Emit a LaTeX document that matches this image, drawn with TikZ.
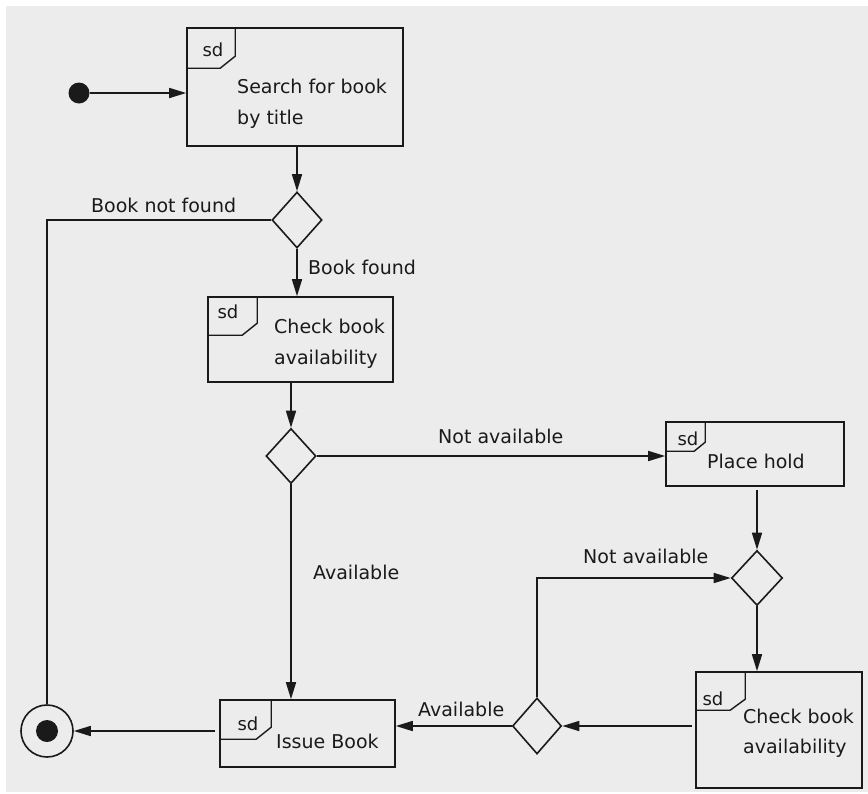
\documentclass[tikz,border=0pt]{standalone}
\usepackage{fontspec}
\setmainfont{DejaVu Sans}
\usetikzlibrary{arrows.meta,shapes.geometric,calc}
\definecolor{bgray}{HTML}{ECECEC}
\definecolor{ink}{HTML}{1A1A1A}
\begin{document}
\begin{tikzpicture}[x=1pt,y=-1pt,
  every node/.style={text=ink},
  actbox/.style={draw=ink,line width=1.6pt,rectangle,inner sep=0pt},
  dec/.style={draw=ink,line width=1.6pt,shape=diamond,inner sep=0pt},
  conn/.style={draw=ink,line width=1.6pt},
  arr/.style={conn,-{Triangle[length=17pt,width=10pt]}},
  tab/.style={draw=ink,line width=1.4pt},
  txt/.style={anchor=base west,inner sep=0pt,font=\fontsize{19}{31}\selectfont},
  sdtxt/.style={anchor=base,inner sep=0pt,font=\fontsize{18}{22}\selectfont}]
% background
\fill[white] (0,0) rectangle (868,793);
\fill[bgray] (6,6) rectangle (868,792);
\useasboundingbox (0,0) rectangle (868,793);

% initial / final
\node[circle,fill=ink,minimum size=21pt,inner sep=0pt] (init) at (79,93) {};
\node[circle,draw=ink,line width=1.6pt,minimum size=52pt,inner sep=0pt] (fin) at (47,731) {};
\node[circle,fill=ink,minimum size=22pt,inner sep=0pt] (findot) at (47,731) {};

% activity boxes
\node[actbox,minimum width=216pt,minimum height=118pt] (search) at (295,87) {};
\node[actbox,minimum width=185pt,minimum height=85pt] (check1) at (300.5,339.5) {};
\node[actbox,minimum width=178pt,minimum height=64pt] (hold) at (755,454) {};
\node[actbox,minimum width=166pt,minimum height=116pt] (check2) at (779,730) {};
\node[actbox,minimum width=175pt,minimum height=67pt] (issue) at (307.5,733.5) {};

% sd tabs
\draw[tab] (search.north west) ++(49,0) -- ++(0,29) -- ++(-15,12) -- ++(-34,0);
\draw[tab] (check1.north west) ++(50,0) -- ++(0,27) -- ++(-15,12) -- ++(-35,0);
\draw[tab] (hold.north west) ++(40,0) -- ++(0,21) -- ++(-11,9) -- ++(-29,0);
\draw[tab] (check2.north west) ++(50,0) -- ++(0,28) -- ++(-15,11) -- ++(-35,0);
\draw[tab] (issue.north west) ++(52,0) -- ++(0,28) -- ++(-15,12) -- ++(-37,0);

\node[sdtxt] (sd1) at (213,56) {sd};
\node[sdtxt] (sd2) at (228,318) {sd};
\node[sdtxt] (sd3) at (688,445) {sd};
\node[sdtxt] (sd4) at (713,705) {sd};
\node[sdtxt] (sd5) at (248,730) {sd};

% box texts
\node[txt] (t1a) at (237,93) {Search for book};
\node[txt] (t1b) at (237,124) {by title};
\node[txt] (t2a) at (274,333) {Check book};
\node[txt] (t2b) at (274,364) {availability};
\node[txt] (t3) at (707,468) {Place hold};
\node[txt] (t4a) at (743,723) {Check book};
\node[txt] (t4b) at (743,753) {availability};
\node[txt] (t5) at (276,748) {Issue Book};

% decisions
\node[dec,minimum width=50pt,minimum height=56pt] (d1) at (297,220) {};
\node[dec,minimum width=50pt,minimum height=55pt] (d2) at (291,456) {};
\node[dec,minimum width=51pt,minimum height=55pt] (d3) at (757,578) {};
\node[dec,minimum width=49pt,minimum height=56pt] (d4) at (537,726) {};

% connectors
\draw[arr] (init.east) -- (init.east -| search.west);
\draw[arr] (search.south -| d1.north) -- (d1.north);
\draw[conn] (d1.west) -| (fin.north);
\draw[arr] (d1.south) -- (d1.south |- check1.north);
\draw[arr] (check1.south -| d2.north) -- (d2.north);
\draw[arr] (d2.east) -- (d2.east -| hold.west);
\draw[arr] (d2.south) -- (d2.south |- issue.north);
\draw[arr] ([yshift=-3pt]hold.south -| d3.north) -- (d3.north);
\draw[arr] (d3.south) -- (d3.south |- check2.north);
\draw[arr] ([xshift=-3pt]check2.west |- d4.east) -- (d4.east);
\draw[arr] (d4.north) |- (d3.west);
\draw[arr] (d4.west) -- (d4.west -| issue.east);
\draw[arr] ([xshift=-4pt]issue.west |- fin) -- (fin.east);

% labels
\node[txt] (l1) at (91,212) {Book not found};
\node[txt] (l2) at (308,274) {Book found};
\node[txt] (l3) at (438,443) {Not available};
\node[txt] (l4) at (313,579) {Available};
\node[txt] (l5) at (583,563) {Not available};
\node[txt] (l6) at (418,716) {Available};
\end{tikzpicture}
\end{document}
